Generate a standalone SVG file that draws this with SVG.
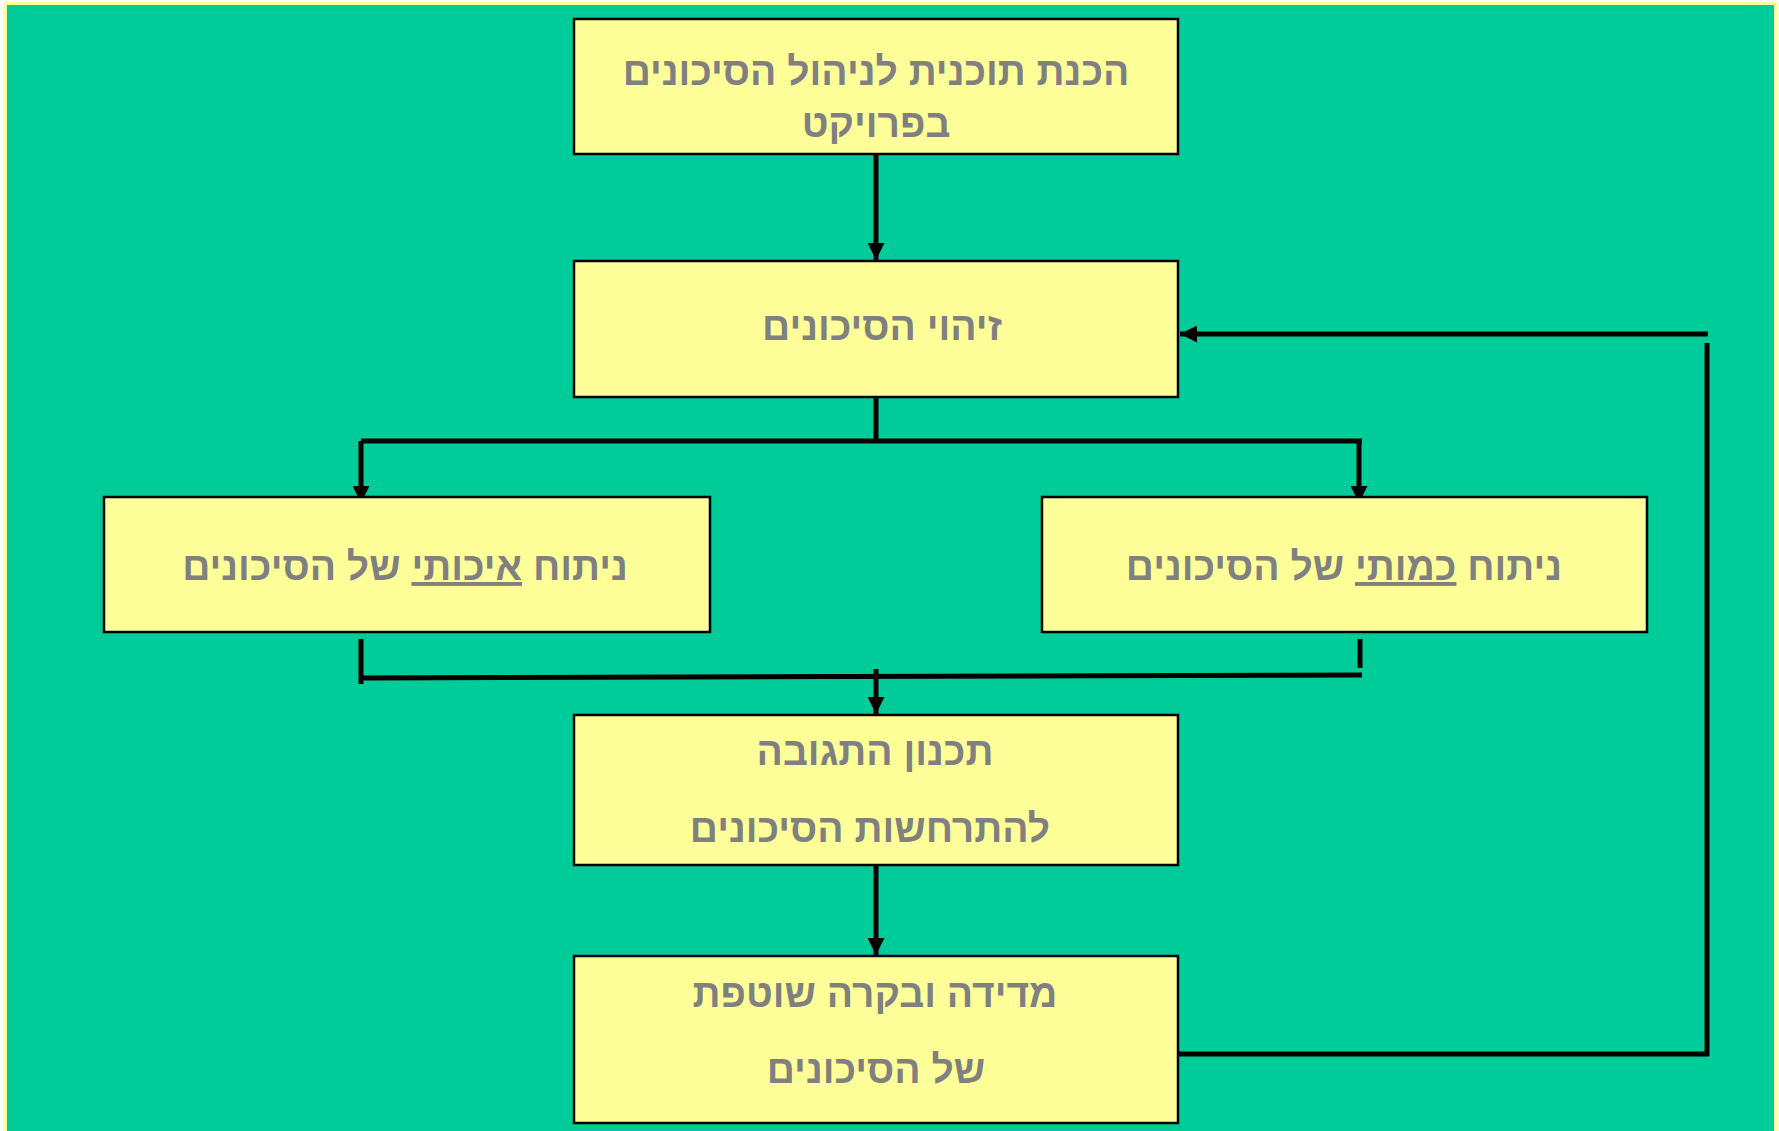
<svg xmlns="http://www.w3.org/2000/svg" width="1779" height="1131" viewBox="0 0 1779 1131">
<defs>
<style>
.box{fill:#FFFF99;stroke:#000;stroke-width:2.5}
.t{font-family:"Liberation Sans","DejaVu Sans",sans-serif;font-weight:bold;font-size:39px;fill:#808080;text-anchor:middle}
.c{fill:none;stroke:#000;stroke-width:5}
.u{text-decoration:underline}
</style>
<marker id="ah" viewBox="0 0 10 10" refX="10" refY="5" markerWidth="17" markerHeight="17" markerUnits="userSpaceOnUse" orient="auto">
<path d="M0,0 L10,5 L0,10 Z" fill="#000"/>
</marker>
</defs>
<rect x="0" y="0" width="1779" height="1131" fill="#fff"/>
<rect x="5.5" y="3.5" width="1770" height="1140" fill="#00CC99" stroke="#FFFF99" stroke-width="3"/>
<g id="connectors">
<line class="c" x1="876" y1="154" x2="876" y2="260" marker-end="url(#ah)"/>
<polyline class="c" points="876,397 876,441"/>
<line class="c" x1="361" y1="441" x2="1362" y2="441"/>
<line class="c" x1="361" y1="441" x2="361" y2="503" marker-end="url(#ah)"/>
<line class="c" x1="1359" y1="441" x2="1359" y2="503" marker-end="url(#ah)"/>
<line class="c" x1="361" y1="639" x2="361" y2="684"/>
<line class="c" x1="1360" y1="639" x2="1360" y2="668"/>
<line class="c" x1="361" y1="678" x2="1362" y2="675"/>
<line class="c" x1="876" y1="669" x2="876" y2="714" marker-end="url(#ah)"/>
<line class="c" x1="876" y1="865" x2="876" y2="955" marker-end="url(#ah)"/>
<line class="c" x1="1178" y1="1054" x2="1709" y2="1054"/>
<line class="c" x1="1707" y1="343" x2="1707" y2="1056"/>
<line class="c" x1="1708" y1="334" x2="1180" y2="334" marker-end="url(#ah)"/>
</g>
<g id="n1">
<rect class="box" x="574" y="19" width="604" height="135"/>
<text class="t" x="876" y="85" direction="rtl">הכנת תוכנית לניהול הסיכונים</text>
<text class="t" x="876" y="137" direction="rtl">בפרויקט</text>
</g>
<g id="n2">
<rect class="box" x="574" y="261" width="604" height="136"/>
<text class="t" x="882" y="340" direction="rtl">זיהוי הסיכונים</text>
</g>
<g id="n3">
<rect class="box" x="104" y="497" width="606" height="135"/>
<text class="t" x="405" y="580" direction="rtl">ניתוח <tspan class="u">איכותי</tspan> של הסיכונים</text>
</g>
<g id="n4">
<rect class="box" x="1042" y="497" width="605" height="135"/>
<text class="t" x="1344" y="580" direction="rtl">ניתוח <tspan class="u">כמותי</tspan> של הסיכונים</text>
</g>
<g id="n5">
<rect class="box" x="574" y="715" width="604" height="150"/>
<text class="t" x="875" y="765" direction="rtl">תכנון התגובה</text>
<text class="t" x="870" y="842" direction="rtl">להתרחשות הסיכונים</text>
</g>
<g id="n6">
<rect class="box" x="574" y="956" width="604" height="167"/>
<text class="t" x="875" y="1007" direction="rtl">מדידה ובקרה שוטפת</text>
<text class="t" x="876" y="1083" direction="rtl">של הסיכונים</text>
</g>
</svg>
